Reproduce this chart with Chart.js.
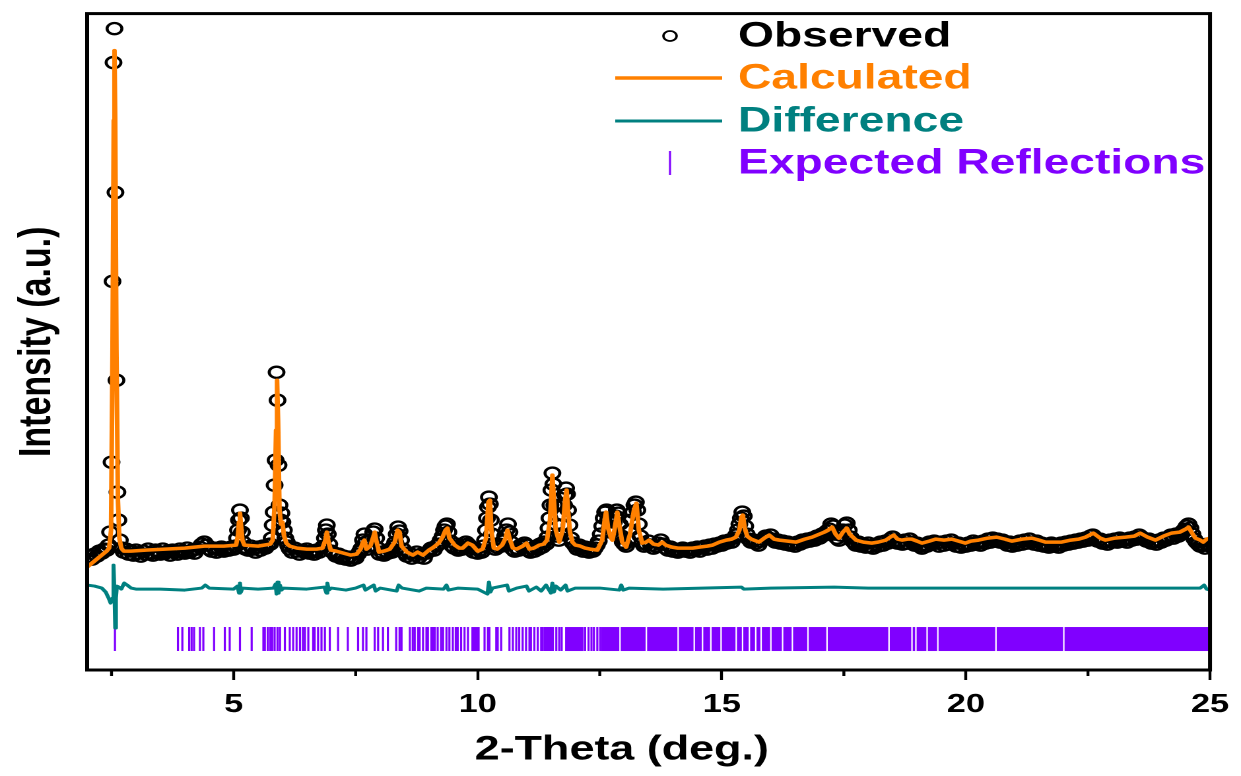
<!DOCTYPE html>
<html>
<head>
<meta charset="utf-8">
<title>Rietveld refinement</title>
<script src="https://cdn.jsdelivr.net/npm/chart.js@4.4.1/dist/chart.umd.min.js"></script>
<style>
  html, body { margin: 0; padding: 0; background: #fff; overflow: hidden; }
  /* the figure is drawn narrow and widened, so markers come out as flat ovals */
  #wrap { width: 940px; height: 776px; transform: scaleX(1.3202); transform-origin: 0 0; }
</style>
</head>
<body>
<div id="wrap"><canvas id="xrd" width="940" height="776"></canvas></div>
<script>
// observed pattern [2theta, intensity]
const obsA = [
  [2.00,110],[2.05,114],[2.10,111],[2.15,116],[2.20,114],[2.25,119],[2.30,117],[2.35,121],[2.40,120],
  [2.44,125],[2.47,138],[2.50,208],[2.52,389],[2.54,608],[2.56,642],[2.58,478],[2.60,290],[2.62,178],[2.64,150],[2.67,130],[2.71,122],
  [2.75,118],[2.80,121],[2.85,116],[2.90,119],[2.95,115],[3.00,120],[3.05,117],[3.10,114],[3.15,119],[3.20,116],
  [3.25,121],[3.30,117],[3.35,115],[3.40,120],[3.45,118],[3.50,116],[3.55,121],[3.60,117],[3.65,119],[3.70,115],
  [3.75,120],[3.80,118],[3.85,116],[3.90,121],[3.95,119],[4.00,117],[4.05,122],[4.10,118],[4.15,120],[4.20,117],
  [4.25,121],[4.30,123],[4.35,126],[4.40,128],[4.45,125],[4.50,121],[4.55,119],[4.60,122],[4.65,118],[4.70,121],
  [4.75,123],[4.80,119],[4.85,122],[4.90,120],[4.95,123],[5.00,121]
];
const obsB = [
  [5.04,124],[5.07,132],[5.09,140],[5.11,150],[5.13,160],[5.15,152],[5.17,138],[5.19,128],[5.22,123],[5.25,121],
  [5.30,120],[5.35,124],[5.40,121],[5.45,118],[5.50,123],[5.55,120],[5.60,124],[5.65,122],[5.70,125],[5.75,126],
  [5.78,132],[5.80,145],[5.82,158],[5.84,185],[5.86,210],[5.88,298],[5.90,270],[5.92,205],[5.94,165],[5.96,150],
  [5.98,157],[6.00,148],[6.03,140],[6.06,132],[6.09,128],[6.12,124],
  [6.15,121],[6.20,118],[6.25,122],[6.30,119],[6.35,116],[6.40,120],[6.45,118],[6.50,121],[6.55,117],[6.60,119],
  [6.65,116],[6.70,120],[6.75,118],[6.80,122],
  [6.84,124],[6.87,132],[6.89,140],[6.91,145],[6.93,136],[6.96,126],[7.00,119],
  [7.05,117],[7.10,114],[7.15,116],[7.20,112],[7.25,114],[7.30,111],[7.35,113],[7.40,110],[7.45,113],[7.50,112],
  [7.55,116],[7.59,119],
  [7.62,122],[7.65,130],[7.68,136],[7.71,128],[7.74,121],[7.78,124],[7.82,130],[7.86,138],[7.89,141],[7.92,132],
  [7.95,122],[7.99,116],
  [8.04,118],[8.08,115],[8.12,119],[8.16,117],[8.20,121],[8.24,118],[8.28,124],
  [8.31,128],[8.34,136],[8.37,143],[8.40,139],[8.43,130],[8.47,121],[8.51,117],
  [8.55,114],[8.60,117],[8.65,112],[8.70,115],[8.75,118],[8.80,113],[8.85,116],[8.90,112],[8.95,117],[9.00,119],
  [9.05,122],[9.10,120],[9.15,124],[9.20,126],[9.24,130],
  [9.28,134],[9.31,140],[9.34,144],[9.37,146],[9.40,138],[9.44,129],[9.48,124],
  [9.52,122],[9.56,126],[9.60,120],[9.64,123],[9.68,121],[9.72,125],[9.76,128],[9.80,126],[9.84,124],[9.88,122],
  [9.92,118],[9.96,121]
];
const obsC = [
  [10.00,117],[10.04,120],[10.08,118],[10.12,124],
  [10.15,130],[10.17,140],[10.19,152],[10.21,163],[10.23,173],[10.25,166],[10.27,150],[10.29,136],[10.32,126],[10.36,121],
  [10.40,123],[10.44,126],[10.48,124],[10.52,129],
  [10.56,134],[10.59,140],[10.62,146],[10.65,138],[10.68,128],[10.72,121],
  [10.76,119],[10.80,122],[10.84,120],[10.88,125],[10.92,123],[10.96,127],[11.00,125],[11.04,120],[11.08,118],[11.12,122],
  [11.16,119],[11.20,124],[11.24,121],[11.28,126],[11.32,123],[11.36,128],[11.40,126],[11.43,133],
  [11.45,142],[11.47,152],[11.49,165],[11.51,180],[11.53,197],[11.55,186],[11.57,165],[11.60,146],[11.63,134],[11.66,130],
  [11.69,136],[11.72,145],[11.75,155],[11.77,165],[11.79,175],[11.81,182],[11.83,176],[11.85,160],[11.88,145],[11.91,132],
  [11.95,127],
  [12.00,124],[12.04,121],[12.08,125],[12.12,122],[12.16,119],[12.20,123],[12.24,120],[12.28,118],[12.32,121],[12.36,119],
  [12.40,122],[12.44,125],[12.48,129],
  [12.52,136],[12.55,144],[12.58,152],[12.61,158],[12.64,160],[12.67,150],[12.70,142],[12.73,138],[12.76,142],[12.79,148],
  [12.82,154],[12.85,160],[12.88,157],[12.91,146],[12.94,134],[12.97,128],[13.00,126],[13.04,124],[13.08,130],[13.12,140],
  [13.15,150],[13.18,158],[13.21,165],[13.24,168],[13.27,160],[13.30,146],[13.33,134],[13.37,127],[13.41,124],
  [13.45,126],[13.50,129],[13.55,125],[13.60,122],[13.65,124],[13.70,127],[13.75,130],[13.80,126],[13.85,122],[13.90,120],
  [13.95,123],[14.00,119],[14.05,121],[14.10,118],[14.15,120],[14.20,122],[14.25,119],[14.30,121],[14.35,118],[14.40,122],
  [14.45,120],[14.50,123],[14.55,119],[14.60,122],[14.65,124],[14.70,121],[14.75,125],[14.80,122],[14.85,126],[14.90,124],
  [14.95,127],[15.00,125],[15.05,129],[15.10,127],[15.15,130],[15.20,128],[15.25,132],[15.29,135]
];
const obsD = [
  [15.33,140],[15.36,146],[15.39,152],[15.42,158],[15.45,154],[15.48,144],[15.51,136],[15.55,131],
  [15.60,128],[15.65,130],[15.70,127],[15.75,125],[15.80,129],[15.85,131],[15.90,134],[15.95,132],[16.00,135],[16.05,131],
  [16.10,128],[16.15,130],[16.20,127],[16.25,129],[16.30,126],[16.35,128],[16.40,125],[16.45,127],[16.50,124],[16.55,128],
  [16.60,126],[16.65,130],[16.70,128],[16.75,131],[16.80,129],[16.85,132],[16.90,130],[16.95,134],[17.00,132],[17.05,136],
  [17.10,135],[17.15,139],
  [17.20,141],[17.24,146],[17.28,144],[17.32,136],[17.36,132],[17.40,130],[17.44,135],[17.48,140],[17.52,145],[17.56,147],
  [17.60,140],[17.64,133],[17.68,129],
  [17.72,127],[17.75,125],[17.80,128],[17.85,124],[17.90,126],[17.95,123],[18.00,127],[18.05,124],[18.10,122],[18.15,126],
  [18.20,124],[18.25,128],[18.30,125],[18.35,129],[18.40,127],[18.45,131],[18.50,133],[18.55,130],[18.60,127],[18.65,129],
  [18.70,126],[18.75,130],[18.80,127],[18.85,131],[18.90,128],[18.95,125],[19.00,127],[19.05,124],[19.10,122],[19.15,126],
  [19.20,124],[19.25,128],[19.30,126],[19.35,129],[19.40,127],[19.45,124],[19.50,128],[19.55,125],[19.60,129],[19.65,126],
  [19.70,130],[19.75,127],[19.80,124],[19.85,127],[19.90,123],[19.95,126],[20.00,124],[20.05,127],[20.10,125],[20.15,129],
  [20.20,126],[20.25,128],[20.30,125],[20.35,129],[20.40,127],[20.45,131],[20.50,128],[20.55,132],[20.60,129],[20.65,131],
  [20.70,128],[20.75,130],[20.80,127],[20.85,125],[20.90,128],[20.95,124],[21.00,127],[21.05,125],[21.10,129],[21.15,126],
  [21.20,130],[21.25,127],[21.30,131],[21.35,128],[21.40,126],[21.45,129],[21.50,125],[21.55,127],[21.60,124],[21.65,126],
  [21.70,123],[21.75,127],[21.80,124],[21.85,126],[21.90,123],[21.95,127],[22.00,125],[22.05,128],[22.10,126],[22.15,129],
  [22.20,127],[22.25,130],[22.30,128],[22.35,131],[22.40,129],[22.45,132],[22.50,130],[22.55,134],[22.60,135],[22.65,132],
  [22.70,129],[22.75,131],[22.80,127],[22.85,129],[22.90,126],[22.95,130],[23.00,128],[23.05,131],[23.10,128],[23.15,132],
  [23.20,129],[23.25,131],[23.30,128],[23.35,132],[23.40,130],[23.45,133],[23.50,131],[23.55,135],[23.60,133],[23.65,131],
  [23.70,129],[23.75,131],[23.80,127],[23.85,129],[23.90,126],[23.95,130],[24.00,128],[24.05,132],[24.10,130],[24.15,133],
  [24.20,135],[24.25,132],[24.30,136],[24.35,134],[24.40,137],
  [24.44,139],[24.48,141],[24.52,144],[24.56,146],[24.60,142],[24.64,136],[24.68,131],[24.72,128],[24.76,126],[24.80,124],
  [24.85,125],[24.90,122],[24.95,126],[25.00,124]
];

// calculated profile [2theta, intensity]
const calcProfile = [
  [2.00,103],[2.10,107],[2.20,111],[2.30,115],[2.40,119],[2.45,122],[2.49,140],[2.52,320],[2.545,550],[2.56,620],
  [2.575,550],[2.60,320],[2.63,170],[2.66,132],[2.70,122],[2.75,119],[2.90,119],[3.20,120],[3.60,121],[4.00,122],
  [4.40,124],[4.80,124],[5.05,125],[5.09,135],[5.11,148],[5.13,157],[5.15,146],[5.18,130],[5.22,125],[5.50,124],
  [5.75,126],[5.80,130],[5.84,165],[5.87,240],[5.89,290],[5.91,250],[5.94,160],[5.97,146],[6.00,148],[6.03,135],
  [6.08,127],[6.15,124],[6.30,122],[6.50,121],[6.70,121],[6.82,122],[6.88,130],[6.91,138],[6.94,129],[6.99,120],
  [7.10,119],[7.25,117],[7.40,115],[7.52,116],[7.60,121],[7.65,128],[7.68,130],[7.72,121],[7.80,124],[7.86,133],
  [7.89,138],[7.92,130],[7.98,118],[8.08,119],[8.20,121],[8.30,128],[8.36,140],[8.40,138],[8.44,124],[8.55,118],
  [8.67,115],[8.77,118],[8.88,115],[9.00,120],[9.10,123],[9.20,127],[9.28,133],[9.34,140],[9.38,142],[9.42,132],
  [9.53,125],[9.62,122],[9.69,122],[9.80,127],[9.89,125],[10.00,119],[10.10,121],[10.17,132],[10.22,168],[10.25,170],
  [10.28,140],[10.33,122],[10.40,121],[10.50,125],[10.57,132],[10.61,140],[10.65,132],[10.72,122],[10.80,121],[10.92,124],
  [11.00,127],[11.06,121],[11.15,122],[11.26,125],[11.35,126],[11.42,130],[11.48,150],[11.53,195],[11.56,170],[11.60,140],
  [11.67,128],[11.74,140],[11.79,170],[11.82,180],[11.85,160],[11.89,138],[11.94,128],[12.00,125],[12.10,124],[12.20,122],
  [12.30,121],[12.45,120],[12.55,130],[12.60,150],[12.63,158],[12.67,142],[12.73,132],[12.76,130],[12.80,140],[12.86,158],
  [12.90,145],[12.96,128],[13.04,123],[13.12,136],[13.20,160],[13.25,167],[13.30,140],[13.37,127],[13.45,128],[13.51,130],
  [13.60,126],[13.70,125],[13.78,128],[13.85,125],[13.98,123],[14.10,122],[14.27,122],[14.40,122],[14.54,123],[14.70,124],
  [14.81,125],[14.95,128],[15.09,130],[15.20,131],[15.29,133],[15.36,140],[15.40,153],[15.43,155],[15.47,142],[15.52,134],
  [15.60,131],[15.76,128],[15.87,132],[15.97,135],[16.07,131],[16.18,130],[16.35,129],[16.52,128],[16.70,131],[16.85,133],
  [17.00,136],[17.10,138],[17.18,140],[17.26,143],[17.33,136],[17.40,132],[17.48,138],[17.56,142],[17.62,136],[17.75,130],
  [17.90,128],[18.07,127],[18.20,128],[18.36,130],[18.45,133],[18.52,135],[18.60,131],[18.69,130],[18.80,131],[18.89,131],
  [19.00,129],[19.10,127],[19.25,129],[19.38,131],[19.55,130],[19.71,131],[19.85,129],[19.99,127],[20.10,129],[20.26,130],
  [20.45,132],[20.63,133],[20.80,131],[20.94,129],[21.15,131],[21.35,132],[21.50,130],[21.63,128],[21.80,128],[21.96,128],
  [22.15,130],[22.31,131],[22.45,133],[22.61,137],[22.75,132],[22.86,130],[23.05,132],[23.27,133],[23.45,134],[23.57,137],
  [23.72,133],[23.88,130],[24.05,134],[24.21,137],[24.38,138],[24.50,141],[24.56,143],[24.62,138],[24.70,132],[24.80,130],
  [24.86,128],[24.93,131],[25.00,132]
];

// obs - calc [2theta, difference]
const diffCurve = [
  [2.00,3],[2.15,2],[2.30,0],[2.38,-4],[2.44,-10],[2.48,-15],[2.52,-10],[2.54,23],[2.56,-5],[2.575,-40],
  [2.59,-10],[2.61,2],[2.65,1],[2.70,-1],[2.76,5],[2.82,3],[2.90,0],[3.00,-1],[3.50,-1],[4.00,-2],
  [4.35,0],[4.42,3],[4.50,0],[5.00,-1],[5.08,2],[5.11,-5],[5.13,5],[5.15,-4],[5.18,0],[5.50,-1],
  [5.82,0],[5.86,4],[5.88,-6],[5.90,6],[5.92,-5],[5.95,3],[5.98,-2],[6.02,0],[6.50,-1],[6.86,1],
  [6.90,-5],[6.92,5],[6.95,-2],[7.00,0],[7.30,-2],[7.50,0],[7.66,3],[7.70,-2],[7.87,3],[7.91,-3],
  [8.00,0],[8.34,-3],[8.38,3],[8.45,0],[8.80,-3],[8.95,0],[9.30,-1],[9.36,3],[9.40,-2],[9.60,0],
  [10.00,-1],[10.20,-6],[10.23,6],[10.26,-4],[10.30,0],[10.60,3],[10.64,-3],[10.80,0],[11.00,2],[11.05,-3],
  [11.20,1],[11.30,-3],[11.40,3],[11.50,-5],[11.53,5],[11.56,-4],[11.60,2],[11.70,-2],[11.80,3],[11.84,-3],
  [12.00,0],[12.50,0],[12.90,-2],[12.94,3],[12.98,-2],[13.10,0],[13.80,-1],[15.40,1],[15.45,-1],[16.00,0],
  [17.30,1],[18.00,0],[20.00,0],[22.00,0],[24.00,0],[24.80,0],[24.88,3],[24.93,-1],[25.00,-2]
];

// single reflection positions (2theta)
const reflPositions = [
  2.57, 3.86, 3.95, 4.09, 4.14, 4.19, 4.31, 4.38, 4.60, 4.82, 4.92, 5.13, 5.37, 5.61, 5.64, 5.70, 5.75,
  5.79, 5.84, 5.90, 5.95, 6.05, 6.15, 6.22, 6.29, 6.36, 6.42, 6.46, 6.53, 6.63, 6.66, 6.73, 6.80, 6.87,
  6.97, 7.14, 7.34, 7.55, 7.65, 7.72, 7.89, 7.96, 8.06, 8.16, 8.33, 8.40, 8.44, 8.61, 8.67, 8.71, 8.78,
  8.81, 8.88, 8.95, 8.98, 9.05, 9.08, 9.12, 9.18, 9.25, 9.29, 9.36, 9.42, 9.49, 9.55, 9.59, 9.66, 9.73,
  9.80, 10.14, 10.21, 10.24, 10.38, 10.41, 10.48, 10.65, 10.72, 10.79, 10.85, 10.92, 10.99, 11.06, 11.09,
  11.16, 11.23, 11.30, 11.33, 11.37, 11.40, 11.43, 11.47, 11.50, 11.54, 11.61, 11.67, 11.72, 12.20, 12.27,
  12.33, 12.38, 12.45, 12.51
];
// ranges where reflections run together [from, to]
const reflBands = [
  [9.87,10.04],[11.79,12.17],[12.53,12.90],[12.93,13.44],[13.47,14.09],[14.12,14.42],[14.45,14.59],
  [14.62,14.76],[14.79,14.97],[15.00,15.28],[15.31,15.41],[15.44,15.55],[15.58,15.68],[15.71,15.79],
  [15.82,15.99],[16.02,16.23],[16.26,16.43],[16.46,16.75],[16.78,17.14],[17.17,18.41],[18.44,18.88],
  [18.91,18.96],[18.99,19.19],[19.22,19.41],[19.44,20.60],[20.63,21.99],[22.02,25.00]
];

const minorTicks = [2.5, 7.5, 12.5, 17.5, 22.5];

const ORANGE = '#ff8000', TEAL = '#008080', PURPLE = '#8000ff';
const FONT = '"Liberation Sans", Arial, sans-serif';
const diffOffset = 82;   // baseline of difference curve
const reflRow = 31;      // centre of reflection tick row
const TICK_HALF = 12;
const MARK_R = 5.6;

const toXY = pts => pts.map(([x, y]) => ({x, y}));

Chart.defaults.font.family = FONT;

const overlay = {
  id: 'overlay',
  afterDatasetsDraw(chart) {
    const {ctx, scales: {x, y}} = chart;
    const yc = y.getPixelForValue(reflRow);
    ctx.save();
    ctx.fillStyle = PURPLE;
    reflBands.forEach(([a, b]) => {
      const x1 = x.getPixelForValue(a), x2 = x.getPixelForValue(b);
      ctx.fillRect(x1, yc - TICK_HALF, x2 - x1, TICK_HALF * 2);
    });
    ctx.restore();
  },
  afterDraw(chart) {
    const {ctx, chartArea: a, scales: {x}} = chart;
    ctx.save();
    // box
    ctx.strokeStyle = '#000';
    ctx.lineWidth = 3;
    ctx.lineJoin = 'miter';
    ctx.strokeRect(a.left, a.top, a.right - a.left, a.bottom - a.top);
    // minor ticks
    ctx.lineWidth = 2.2;
    ctx.beginPath();
    minorTicks.forEach(v => {
      const px = x.getPixelForValue(v);
      ctx.moveTo(px, a.bottom);
      ctx.lineTo(px, a.bottom + 6);
    });
    ctx.stroke();
    // x axis title
    ctx.fillStyle = '#000';
    ctx.font = 'bold 34px ' + FONT;
    ctx.textAlign = 'center';
    ctx.textBaseline = 'middle';
    ctx.fillText('2-Theta (deg.)', 471, 750);

    // legend
    const mx = 507.5, lx1 = 466, lx2 = 547, tx = 559;
    const rows = [
      {text: 'Observed', color: '#000', y: 36},
      {text: 'Calculated', color: ORANGE, y: 78},
      {text: 'Difference', color: TEAL, y: 121},
      {text: 'Expected Reflections', color: PURPLE, y: 163}
    ];
    ctx.font = 'bold 35px ' + FONT;
    ctx.textAlign = 'left';
    rows.forEach(r => {
      ctx.fillStyle = r.color;
      ctx.fillText(r.text, tx, r.y + 1);
    });
    ctx.strokeStyle = '#000';
    ctx.lineWidth = 1.8;
    ctx.beginPath();
    ctx.arc(mx, rows[0].y, 5, 0, Math.PI * 2);
    ctx.stroke();
    ctx.lineWidth = 3.5;
    ctx.strokeStyle = ORANGE;
    ctx.beginPath(); ctx.moveTo(lx1, rows[1].y); ctx.lineTo(lx2, rows[1].y); ctx.stroke();
    ctx.lineWidth = 3;
    ctx.strokeStyle = TEAL;
    ctx.beginPath(); ctx.moveTo(lx1, rows[2].y); ctx.lineTo(lx2, rows[2].y); ctx.stroke();
    ctx.lineWidth = 1.6;
    ctx.strokeStyle = PURPLE;
    ctx.beginPath(); ctx.moveTo(mx, rows[3].y - TICK_HALF); ctx.lineTo(mx, rows[3].y + TICK_HALF); ctx.stroke();
    ctx.restore();
  }
};

new Chart(document.getElementById('xrd'), {
  type: 'scatter',
  data: {
    datasets: [
      {
        label: 'Calculated',
        data: toXY(calcProfile),
        showLine: true,
        borderColor: ORANGE,
        borderWidth: 3.5,
        borderJoinStyle: 'round',
        pointRadius: 0,
        order: 1
      },
      {
        label: 'Observed',
        data: toXY([...obsA, ...obsB, ...obsC, ...obsD]),
        showLine: false,
        pointStyle: 'circle',
        pointRadius: MARK_R,
        pointBorderWidth: 2.3,
        pointBorderColor: '#000',
        pointBackgroundColor: 'rgba(255,255,255,0)',
        order: 2
      },
      {
        label: 'Difference',
        data: diffCurve.map(([x, d]) => ({x, y: d + diffOffset})),
        showLine: true,
        borderColor: TEAL,
        borderWidth: 3,
        borderJoinStyle: 'round',
        pointRadius: 0,
        order: 3
      },
      {
        label: 'Expected Reflections',
        data: reflPositions.map(x => ({x, y: reflRow})),
        showLine: false,
        pointStyle: 'line',
        pointRotation: 90,
        pointRadius: TICK_HALF,
        pointBorderWidth: 1.6,
        pointBorderColor: PURPLE,
        order: 4
      }
    ]
  },
  options: {
    responsive: false,
    devicePixelRatio: 2,
    animation: false,
    events: [],
    layout: { padding: { top: 13, right: 22, left: 0, bottom: 0 } },
    plugins: { legend: { display: false }, tooltip: { enabled: false } },
    scales: {
      x: {
        type: 'linear',
        min: 2,
        max: 25,
        afterFit: s => { s.height = 106; },
        ticks: { stepSize: 5, includeBounds: false, color: '#000', padding: 9, font: { size: 26, weight: 'bold' } },
        grid: { drawOnChartArea: false, drawTicks: true, tickLength: 10, tickWidth: 2.2, tickColor: '#000' },
        border: { display: false }
      },
      y: {
        min: 0,
        max: 657,
        afterFit: s => { s.width = 66; },
        ticks: { display: false },
        grid: { display: false },
        border: { display: false },
        title: {
          display: true,
          text: 'Intensity (a.u.)',
          color: '#000',
          padding: { top: 8, bottom: 0 },
          font: { size: 34, weight: 'bold' }
        }
      }
    }
  },
  plugins: [overlay]
});
</script>
</body>
</html>
